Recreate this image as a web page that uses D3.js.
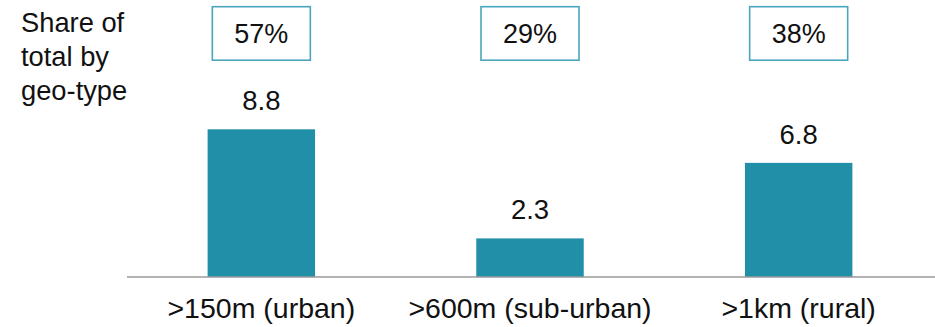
<!DOCTYPE html>
<html><head><meta charset="utf-8">
<script src="https://cdn.jsdelivr.net/npm/d3@7"></script>
<style>body{margin:0;background:#fff}svg{display:block}text{font-family:"Liberation Sans",Arial,sans-serif;fill:#111}</style>
</head><body>
<svg id="c" width="935" height="327"></svg>
<script>
const categories = [">150m (urban)", ">600m (sub-urban)", ">1km (rural)"];
const values = [8.8, 2.3, 6.8];
const shares = ["57%", "29%", "38%"];
const titleLines = ["Share of", "total by", "geo-type"];

const svg = d3.select("#c");
const x = d3.scaleBand().domain(categories).range([127, 933]).paddingInner(0.6).paddingOuter(0.3);
const y = d3.scaleLinear().domain([0, 8.8]).range([277, 129.3]);

svg.append("g").selectAll("rect").data(values).join("rect")
  .attr("x", (d,i)=>x(categories[i])).attr("width", x.bandwidth())
  .attr("y", d=>y(d)).attr("height", d=>y(0)-y(d)).attr("fill", "#228fa8");

svg.append("line").attr("x1",127).attr("x2",935).attr("y1",y(0)).attr("y2",y(0))
  .attr("stroke","#9a9a9a").attr("stroke-width",1.5);

svg.append("g").selectAll("text").data(values).join("text")
  .attr("x",(d,i)=>x(categories[i])+x.bandwidth()/2).attr("y",d=>y(d)-19)
  .attr("text-anchor","middle").attr("font-size",27.5).text(d=>d.toFixed(1));

svg.append("g").selectAll("text").data(categories).join("text")
  .attr("x",d=>x(d)+x.bandwidth()/2).attr("y",318)
  .attr("text-anchor","middle").attr("font-size",28.5).text(d=>d);

const boxW = 98, boxH = 53.5;
const bg = svg.append("g").selectAll("g").data(shares).join("g")
  .attr("transform",(d,i)=>`translate(${x(categories[i])+x.bandwidth()/2},0)`);
bg.append("rect").attr("x",-boxW/2).attr("y",6.7).attr("width",boxW).attr("height",boxH)
  .attr("fill","#fff").attr("stroke","#4ba6bd").attr("stroke-width",1.6);
bg.append("text").attr("y",42.5).attr("text-anchor","middle").attr("font-size",27).text(d=>d);

svg.append("g").selectAll("text").data(titleLines).join("text")
  .attr("x",21).attr("y",(d,i)=>32+i*34).attr("font-size",27.3).text(d=>d);
</script>
</body></html>
